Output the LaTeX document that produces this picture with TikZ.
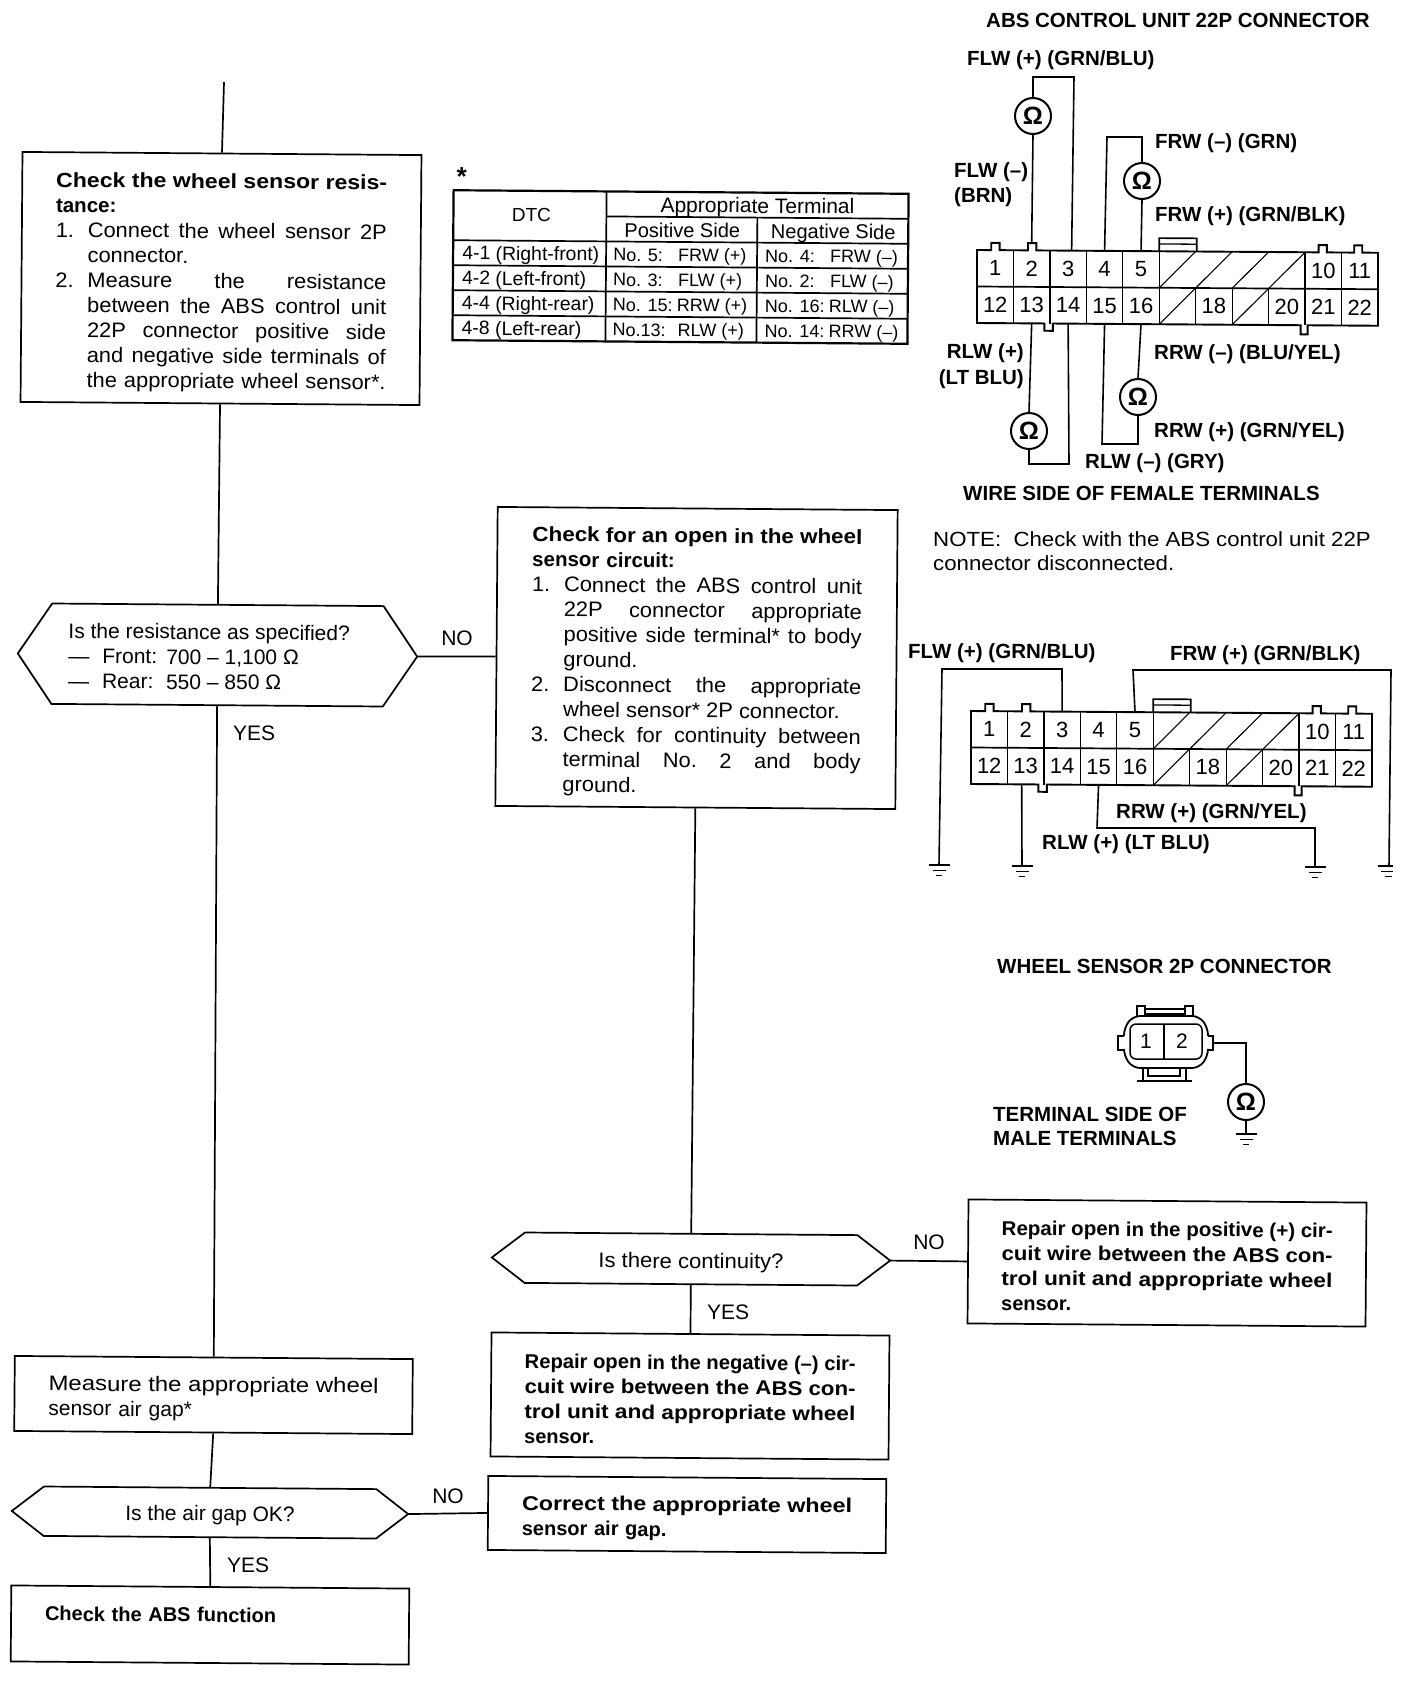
\documentclass[tikz,border=0pt]{standalone}
\usepackage{fontspec}
\setmainfont{Liberation Sans}
\newfontfamily\stretched[FakeStretch=1.04]{Liberation Sans}
\usetikzlibrary{calc}
\newcommand\rg{\fontsize{21}{25}\selectfont}
\newcommand\rgx{\stretched\fontsize{21}{25}\selectfont}
\newcommand\bl{\fontsize{20.5}{24}\bfseries\selectfont}
\newcommand\bx{\fontsize{20}{25}\bfseries\selectfont}
\newcommand\tb{\fontsize{18}{22}\selectfont}
\newcommand\hd[1]{{\rmfamily\bfseries\fontsize{20.5}{25}\selectfont #1}}
\newcommand\pad[1]{\rule{0pt}{#1pt}}
\newcommand\jl[1]{\makebox[\lw][s]{\spaceskip=0pt\relax\xspaceskip=0pt\relax #1}}
\newcommand\fl[1]{\resizebox{\lw}{\height}{\spaceskip=0pt\relax\xspaceskip=0pt\relax #1}}
\newcommand\ind[2]{\makebox[32pt][l]{#1}\makebox[\dimexpr\lw-32pt\relax][s]{\spaceskip=0pt\relax\xspaceskip=0pt\relax #2}}
\newcommand\inl[2]{\makebox[32pt][l]{#1}\spaceskip=0pt\relax\xspaceskip=0pt\relax #2}
\newcommand\lw{330pt}
\tikzset{
  flowline/.style={line width=1.7pt,line join=miter},
  wire/.style={line width=1.6pt,line join=miter},
  flowbox/.style={draw,flowline,rectangle,rotate=-0.45,inner xsep=0pt,inner ysep=0pt,align=left,font=\rg},
  hexbase/.style={rectangle,rotate=-0.45,inner sep=0pt,align=left,font=\rg},
  lab/.style={anchor=west,inner sep=0pt,font=\bl,text height=15pt,text depth=0pt},
  labr/.style={lab,anchor=east},
  answer/.style={inner sep=0pt,font=\rg,text height=15pt,text depth=0pt},
  answerw/.style={answer,anchor=west},
  pinnum/.style={rectangle,inner sep=0pt,minimum width=36pt,minimum height=36pt,font=\fontsize{22}{24}\selectfont},
  meter/.style={circle,draw,line width=2pt,minimum size=36pt,inner sep=0pt,font=\fontsize{25}{26}\bfseries\selectfont},
  tcell/.style={anchor=west,inner sep=0pt,font=\tb,text height=13pt,text depth=0pt},
  tcella/.style={tcell,font=\fontsize{19.4}{22}\selectfont},
  thead/.style={tcell,anchor=center,font=\fontsize{20}{22}\selectfont},
  note/.style={anchor=west,inner sep=0pt,font=\fontsize{20.5}{24}\selectfont,text height=15pt,text depth=0pt},
}
\newcommand\hexnode[7]{%
  \node[hexbase,minimum width=#4pt,minimum height=#5pt] (#1) at (#2,#3) {#7};
  \draw[flowline] (#1.west) -- ($(#1.north west)!#6pt!(#1.north east)$) -- ($(#1.north east)!#6pt!(#1.north west)$) -- (#1.east) -- ($(#1.south east)!#6pt!(#1.south west)$) -- ($(#1.south west)!#6pt!(#1.south east)$) -- cycle;}
\newcommand\wirecon[3]{%
  \begin{scope}[shift={(#2,#3)},x={(36.45pt,-0.25pt)},y={(0pt,-36.5pt)}]
    \draw[line width=1.9pt,line join=miter] (0,0) -- (.39,0) -- (.39,-.2) -- (.62,-.2) -- (.62,0)
      -- (1.4,0) -- (1.4,-.2) -- (1.63,-.2) -- (1.63,0) -- (9.37,0) -- (9.37,-.2) -- (9.6,-.2) -- (9.6,0)
      -- (10.35,0) -- (10.35,-.2) -- (10.57,-.2) -- (10.57,0) -- (11,0) -- (11,2)
      -- (9.07,2) -- (9.07,2.25) -- (8.88,2.25) -- (8.88,2) -- (2.08,2) -- (2.08,2.2) -- (1.85,2.2) -- (1.85,2) -- (0,2) -- cycle;
    \draw[line width=1.7pt] (0,1) -- (11,1);
    \draw[line width=1.7pt,line join=miter] (5,0) -- (5,-.36) -- (6.03,-.36) -- (6.03,0);
    \draw[line width=1.3pt] (5,-.2) -- (6.03,-.2);
    \foreach \c in {1,2,3,4,5,9,10} \draw[line width=1.3pt] (\c,0) -- (\c,1);
    \foreach \c in {1,2,3,4,5,6,7,8,9,10} \draw[line width=1.3pt] (\c,1) -- (\c,2);
    \foreach \c in {5,6,7,8} \draw[line width=1.1pt] (\c,1) -- (\c+1,0);
    \foreach \c in {5,7} \draw[line width=1.1pt] (\c,2) -- (\c+1,1);
    \foreach \c/\n in {0/1,1/2,2/3,3/4,4/5,9/10,10/11}
      \node[pinnum] (#1\n) at (\c+.5,.5) {\n};
    \foreach \c/\n in {0/12,1/13,2/14,3/15,4/16,6/18,8/20,9/21,10/22}
      \node[pinnum] (#1\n) at (\c+.5,1.5) {\n};
  \end{scope}}
\newcommand\gnd[3]{%
  \coordinate (#1) at (#2,#3);
  \draw[line width=1.4pt] (#2-10.5,#3) -- (#2+10.5,#3);
  \draw[line width=1.4pt] (#2-6.5,#3+5.5) -- (#2+6.5,#3+5.5);
  \draw[line width=1.4pt] (#2-3,#3+10.5) -- (#2+3,#3+10.5);}
\begin{document}
\begin{tikzpicture}[x=1pt,y=-1pt]
\useasboundingbox (0,0) rectangle (1408,1686);
\fill[white] (0,0) rectangle (1408,1686);

%% ---- flow chart ----
\coordinate (top) at (224,82);
\node[flowbox,font=\rgx,text width=331pt,minimum width=399pt,minimum height=250pt] (check) at (221,278.5) {%
  \renewcommand\lw{331pt}%
  \pad{24}\fl{\hd{Check the wheel sensor resis-}}\\
  \hd{tance:}\\
  \ind{1.}{Connect the wheel sensor 2P}\\
  \inl{}{connector.}\\
  \ind{2.}{Measure the resistance}\\
  \ind{}{between the ABS control unit}\\
  \ind{}{22P connector positive side}\\
  \ind{}{and negative side terminals of}\\
  \ind{}{the appropriate wheel sensor*.}};
\hexnode{resist}{217.5}{655}{399}{100}{34}{%
  \pad{19}Is the resistance as specified?\rule{17pt}{0pt}\\
  \makebox[34pt][l]{---}\makebox[64pt][l]{Front:}700 -- 1,100 Ω\\
  \makebox[34pt][l]{---}\makebox[64pt][l]{Rear:}550 -- 850 Ω}
\node[flowbox,font=\rgx,text width=330pt,minimum width=400pt,minimum height=299pt] (open) at (696.5,658) {%
  \renewcommand\lw{330pt}%
  \pad{24}\fl{\hd{Check for an open in the wheel}}\\
  \hd{sensor circuit:}\\
  \ind{1.}{Connect the ABS control unit}\\
  \ind{}{22P connector appropriate}\\
  \ind{}{positive side terminal* to body}\\
  \inl{}{ground.}\\
  \ind{2.}{Disconnect the appropriate}\\
  \inl{}{wheel sensor* 2P connector.}\\
  \ind{3.}{Check for continuity between}\\
  \ind{}{terminal No.\ 2 and body}\\
  \inl{}{ground.}};
\hexnode{contin}{691}{1259}{398}{50}{33}{\pad{23}\scalebox{1.05}[1]{Is there continuity?}}
\node[flowbox,font=\bx,text width=331pt,minimum width=398pt,minimum height=124pt] (posrep) at (1167,1263) {%
  \renewcommand\lw{331pt}%
  \pad{22}\fl{Repair open in the positive (+) cir-}\\
  \fl{cuit wire between the ABS con-}\\
  \fl{trol unit and appropriate wheel}\\
  sensor.};
\node[flowbox,font=\bx,text width=331pt,minimum width=398pt,minimum height=124pt] (negrep) at (690,1396) {%
  \renewcommand\lw{331pt}%
  \pad{22}\fl{Repair open in the negative (--) cir-}\\
  \fl{cuit wire between the ABS con-}\\
  \fl{trol unit and appropriate wheel}\\
  sensor.};
\node[flowbox,font=\rgx,text width=330pt,minimum width=398pt,minimum height=75pt] (measure) at (213.5,1395) {%
  \renewcommand\lw{330pt}%
  \pad{23}\fl{Measure the appropriate wheel}\\
  {\rmfamily sensor air gap*}};
\hexnode{gap}{210}{1512.5}{396}{49}{32}{\pad{21}Is the air gap OK?}
\node[flowbox,font=\bx,text width=330pt,minimum width=398pt,minimum height=74pt] (correct) at (687,1514.5) {%
  \renewcommand\lw{330pt}%
  \pad{23}\fl{Correct the appropriate wheel}\\
  sensor air gap.};
\node[flowbox,font=\bx,text width=330pt,minimum width=398pt,minimum height=76pt] (absf) at (210,1625) {%
  \pad{19}Check the ABS function\\ \mbox{}};

\draw[flowline] (top) -- (check.north);
\draw[flowline] (check.south) -- (resist.north);
\draw[flowline] (resist.south) -- (measure.north);
\draw[flowline] (resist.east) -- (open.west);
\draw[flowline] (open.south) -- (contin.north);
\draw[flowline] (contin.east) -- (posrep.west);
\draw[flowline] (contin.south) -- (negrep.north);
\draw[flowline] (measure.south) -- (gap.north);
\draw[flowline] (gap.east) -- (correct.west);
\draw[flowline] (gap.south) -- (absf.north);

\node[answer] (no1) at (457,638) {NO};
\node[answerw] (yes1) at (233,733) {YES};
\node[answer] (no2) at (929,1242) {NO};
\node[answerw] (yes2) at (707,1312) {YES};
\node[answer] (no3) at (448,1496) {NO};
\node[answerw] (yes3) at (227,1565) {YES};

%% ---- table ----
\begin{scope}[rotate around={-0.45:(680,267)},transform shape]
\draw[line width=2.2pt] (453,192) rectangle (908,342);
\draw[line width=1.7pt] (606,192) -- (606,342);
\draw[line width=1.7pt] (757,217) -- (757,342);
\draw[line width=1.7pt] (606,217) -- (908,217);
\foreach \yy in {242,267,292,317} \draw[line width=1.7pt] (453,\yy) -- (908,\yy);
\node[thead,font=\fontsize{26}{26}\bfseries\selectfont] (tstar) at (461,181) {*};
\node[thead,font=\fontsize{19}{22}\selectfont] (tdtc) at (531,216) {DTC};
\node[thead,font=\fontsize{21}{22}\selectfont] (tapp) at (757,206) {Appropriate Terminal};
\node[thead] (tpos) at (682,231) {Positive Side};
\node[thead] (tneg) at (833,231) {Negative Side};
\node[tcella] (r1a) at (462,255) {4-1 (Right-front)};
\node[tcell] (r1b) at (613,255) {\makebox[65pt][l]{No. 5:}FRW (+)};
\node[tcell] (r1c) at (765,255) {\makebox[65pt][l]{No. 4:}FRW (--)};
\node[tcella] (r2a) at (462,280) {4-2 (Left-front)};
\node[tcell] (r2b) at (613,280) {\makebox[65pt][l]{No. 3:}FLW (+)};
\node[tcell] (r2c) at (765,280) {\makebox[65pt][l]{No. 2:}FLW (--)};
\node[tcella] (r3a) at (462,305) {4-4 (Right-rear)};
\node[tcell] (r3b) at (613,305) {\makebox[64pt][l]{No. 15:}RRW (+)};
\node[tcell] (r3c) at (765,305) {\makebox[64pt][l]{No. 16:}RLW (--)};
\node[tcella] (r4a) at (462,330) {4-8 (Left-rear)};
\node[tcell] (r4b) at (613,330) {\makebox[65pt][l]{No.13:}RLW (+)};
\node[tcell] (r4c) at (765,330) {\makebox[64pt][l]{No. 14:}RRW (--)};
\end{scope}

%% ---- first 22P connector ----
\wirecon{a}{977}{250}
\node[meter] (m1) at (1033,116) {Ω};
\node[meter] (m2) at (1142,181) {Ω};
\node[meter] (m3) at (1138,397) {Ω};
\node[meter] (m4) at (1029,431) {Ω};
\coordinate (w1a) at (1033,77);
\coordinate (w1b) at (1074,77);
\coordinate (w2a) at (1142,137);
\coordinate (w2b) at (1107,137);
\coordinate (w3a) at (1138,444);
\coordinate (w3b) at (1102,444);
\coordinate (w4a) at (1029,464);
\coordinate (w4b) at (1069,464);
\draw[wire] (m1.north) -- (w1a) -- (w1b) -- ([xshift=3.5pt]a3.north);
\draw[wire] (m1.south) -- ([yshift=8pt]a2.north);
\draw[wire] (m2.north) -- (w2a) -- (w2b) -- (a4.north);
\draw[wire] (m2.south) -- (a5.north);
\draw[wire] (m3.north) -- (a16.south);
\draw[wire] (m3.south) -- (w3a) -- (w3b) -- (a15.south);
\draw[wire] (m4.north) -- (a13.south);
\draw[wire] (m4.south) -- (w4a) -- (w4b) -- (a14.south);
\node[lab] (l1) at (986,20) {ABS CONTROL UNIT 22P CONNECTOR};
\node[lab] (l2) at (967,58) {FLW (+) (GRN/BLU)};
\node[lab] (l3) at (1155,141) {FRW (--) (GRN)};
\node[lab] (l4) at (954,170) {FLW (--)};
\node[lab] (l5) at (954,195) {(BRN)};
\node[lab] (l6) at (1155,214) {FRW (+) (GRN/BLK)};
\node[lab] (l7) at (1154,352) {RRW (--) (BLU/YEL)};
\node[labr] (l8) at (1024,351) {RLW (+)};
\node[labr] (l9) at (1024,377) {(LT BLU)};
\node[lab] (l10) at (1154,430) {RRW (+) (GRN/YEL)};
\node[lab] (l11) at (1085,461) {RLW (--) (GRY)};
\node[lab] (l12) at (963,493) {WIRE SIDE OF FEMALE TERMINALS};
\node[note] (n1) at (933,539) {\scalebox{1.085}[1]{NOTE:\ \ Check with the ABS control unit 22P}};
\node[note] (n2) at (933,563) {\scalebox{1.085}[1]{connector disconnected.}};

%% ---- second 22P connector ----
\wirecon{b}{971}{711}
\coordinate (v1a) at (1062,669);
\coordinate (v1b) at (942,669);
\coordinate (v2a) at (1133,670);
\coordinate (v2b) at (1391,670);
\coordinate (v3a) at (1097,828);
\coordinate (v3b) at (1315,828);
\gnd{g1}{939}{865}
\gnd{g2}{1022}{866}
\gnd{g3}{1315}{867}
\coordinate (g4) at (1389,866);
\draw[line width=1.4pt] (1378,866) -- (1393,866);
\draw[line width=1.4pt] (1381,871.5) -- (1393,871.5);
\draw[line width=1.4pt] (1385,876.5) -- (1392,876.5);
\draw[wire] (b3.north) -- (v1a) -- (v1b) -- (g1);
\draw[wire] (b5.north) -- (v2a) -- (v2b) -- (g4);
\draw[wire] ([xshift=-4pt]b13.south) -- (g2);
\draw[wire] (b15.south) -- (v3a) -- (v3b) -- (g3);
\node[lab] (k1) at (908,651) {FLW (+) (GRN/BLU)};
\node[lab] (k2) at (1170,653) {FRW (+) (GRN/BLK)};
\node[lab] (k3) at (1116,811) {RRW (+) (GRN/YEL)};
\node[lab] (k4) at (1042,842) {RLW (+) (LT BLU)};

%% ---- wheel sensor connector ----
\node[lab] (s0) at (997,966) {WHEEL SENSOR 2P CONNECTOR};
\draw[line width=1.8pt,rounded corners=7pt] (1124,1036) -- (1124,1028) -- (1133,1016) -- (1199,1016) -- (1208,1028) -- (1208,1036);
\draw[line width=1.8pt,rounded corners=7pt] (1124,1050) -- (1124,1056) -- (1133,1068) -- (1199,1068) -- (1208,1056) -- (1208,1050);
\draw[line width=1.5pt] (1124,1036) -- (1118,1036) -- (1118,1050) -- (1124,1050);
\draw[line width=1.5pt] (1208,1036) -- (1213,1036) -- (1213,1050) -- (1208,1050);
\draw[line width=1.5pt,rounded corners=6pt] (1130,1024) rectangle (1202,1059);
\draw[line width=1.1pt] (1164,1024) -- (1164,1059);
\draw[line width=1.6pt] (1137,1016) -- (1137,1006) -- (1145,1006) -- (1145,1016);
\draw[line width=1.6pt] (1185,1016) -- (1185,1006) -- (1193,1006) -- (1193,1016);
\draw[line width=1.3pt] (1145,1009) -- (1185,1009);
\draw[line width=1.3pt] (1145,1014) -- (1185,1014);
\draw[line width=1.5pt] (1148,1068) -- (1148,1076) -- (1180,1076) -- (1180,1068);
\draw[line width=1.8pt] (1137,1081) -- (1192,1081);
\draw[line width=1.5pt] (1143,1068) -- (1143,1081);
\draw[line width=1.5pt] (1186,1068) -- (1186,1081);
\node[pinnum,minimum width=30pt,minimum height=30pt,font=\fontsize{21}{24}\selectfont] (s1) at (1146,1041) {1};
\node[pinnum,minimum width=30pt,minimum height=30pt,font=\fontsize{21}{24}\selectfont] (s2) at (1182,1041) {2};
\coordinate (swire) at (1212,1043);
\coordinate (sbend) at (1246,1043);
\node[meter] (m5) at (1246,1102) {Ω};
\gnd{g5}{1246}{1134}
\draw[wire] (swire) -- (sbend) -- (m5.north);
\draw[wire] (m5.south) -- (g5);
\node[lab] (s3) at (993,1114) {TERMINAL SIDE OF};
\node[lab] (s4) at (993,1138) {MALE TERMINALS};
\end{tikzpicture}
\end{document}
